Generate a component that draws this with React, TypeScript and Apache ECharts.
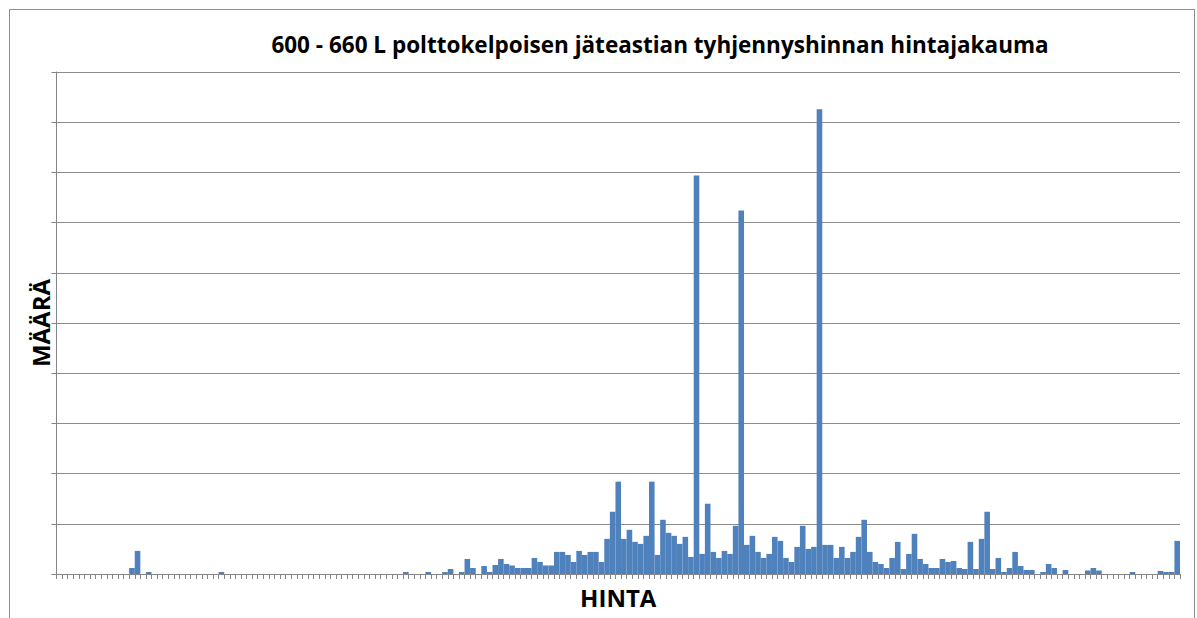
import React, { useEffect, useRef } from "react";
import * as echarts from "echarts";

const TITLE = "600 - 660 L polttokelpoisen jäteastian tyhjennyshinnan hintajakauma";
const X_NAME = "HINTA";
const Y_NAME = "MÄÄRÄ";

// 201 price classes (no labels shown on the reference axis)
const CATEGORY_COUNT = 201;
const categories: string[] = Array.from({ length: CATEGORY_COUNT }, (_, i) => String(i + 1));

// Non-zero counts by class index (all other classes are 0)
const nonZeroIndex: number[] = [
  13, 14, 16, 29, 62, 66, 69, 70, 72, 73, 74, 76, 77, 78, 79, 80, 81, 82, 83, 84,
  85, 86, 87, 88, 89, 90, 91, 92, 93, 94, 95, 96, 97, 98, 99, 100, 101, 102, 103, 104,
  105, 106, 107, 108, 109, 110, 111, 112, 113, 114, 115, 116, 117, 118, 119, 120, 121, 122, 123, 124,
  125, 126, 127, 128, 129, 130, 131, 132, 133, 134, 135, 136, 137, 138, 139, 140, 141, 142, 143, 144,
  145, 146, 147, 148, 149, 150, 151, 152, 153, 154, 155, 156, 157, 158, 159, 160, 161, 162, 163, 164,
  165, 166, 167, 168, 169, 170, 171, 172, 173, 174, 176, 177, 178, 180, 184, 185, 186, 192, 197, 198,
  199, 200,
];
const nonZeroValue: number[] = [
  6, 23, 2, 2, 2, 2, 2, 5, 2, 15, 6, 8, 2, 9, 15, 10, 8.5, 6, 6, 6,
  16, 12, 8.5, 8.5, 22, 22, 19, 12, 23, 19, 22, 22, 12, 35, 62, 92, 35, 44, 32, 30,
  38, 92, 19, 54, 41, 38, 30, 37, 17, 397, 20, 70, 22, 16, 23, 20, 48, 362, 29, 38,
  22, 16, 20, 37, 33, 16, 12, 27, 48, 25, 27, 463, 29, 29, 16, 27, 16, 22, 37, 54,
  22, 12, 10, 6, 16, 32, 5, 20, 40, 15, 10, 6, 6, 15, 12, 13, 6, 5, 32, 5,
  35, 62, 5, 16, 2, 6, 22, 8, 4, 4, 2, 10, 6, 4, 3.5, 6, 3.5, 2, 3, 2,
  2, 33,
];

const Y_MIN = 0;
const Y_MAX = 500;
const Y_INTERVAL = 50;

export default function App() {
  const ref = useRef<HTMLDivElement>(null);

  useEffect(() => {
    if (!ref.current) return;
    const chart = echarts.init(ref.current, undefined, { renderer: "svg" });

    const values: number[] = new Array(CATEGORY_COUNT).fill(0);
    nonZeroIndex.forEach((idx, k) => {
      values[idx] = nonZeroValue[k];
    });

    const font = "'Open Sans', 'Noto Sans', 'DejaVu Sans', sans-serif";

    chart.setOption({
      animation: false,
      backgroundColor: "#ffffff",
      textStyle: { fontFamily: font },
      graphic: [
        {
          type: "rect",
          silent: true,
          shape: { x: 9.5, y: 9.5, width: 1185, height: 640 },
          style: { fill: "none", stroke: "#8c8c8c", lineWidth: 1 },
        },
        {
          type: "text",
          x: 660,
          y: 44,
          style: {
            text: TITLE,
            fill: "#000000",
            font: `bold 22.5px ${font}`,
            textAlign: "center",
            textVerticalAlign: "middle",
          },
        },
      ],
      grid: {
        left: 56.5,
        right: 17,
        top: 72,
        bottom: 44,
        containLabel: false,
        outerBoundsMode: "none",
      },
      xAxis: {
        type: "category",
        data: categories,
        boundaryGap: true,
        name: X_NAME,
        nameLocation: "middle",
        nameGap: 11,
        nameTextStyle: { fontWeight: "bold", fontSize: 24, color: "#000", fontFamily: font },
        axisLine: { show: true, lineStyle: { color: "#868686", width: 1 } },
        axisTick: { show: true, interval: 0, length: 5, lineStyle: { color: "#868686" } },
        axisLabel: { show: false },
        splitLine: { show: false },
      },
      yAxis: {
        type: "value",
        min: Y_MIN,
        max: Y_MAX,
        interval: Y_INTERVAL,
        name: Y_NAME,
        nameLocation: "middle",
        nameRotate: 90,
        nameGap: 4,
        nameTextStyle: { fontWeight: "bold", fontSize: 24, color: "#000", fontFamily: font },
        axisLine: { show: true, lineStyle: { color: "#868686", width: 1 } },
        axisTick: { show: true, length: 5, lineStyle: { color: "#868686" } },
        axisLabel: { show: false },
        splitLine: { show: true, lineStyle: { color: "#8c8c8c", width: 1 } },
      },
      series: [
        {
          type: "bar",
          data: values,
          barCategoryGap: "0%",
          itemStyle: { color: "#4f81bd" },
        },
      ],
    });

    return () => chart.dispose();
  }, []);

  return (
    <div
      ref={ref}
      style={{ position: "absolute", left: 0, top: 0, width: 1197, height: 618 }}
    />
  );
}
